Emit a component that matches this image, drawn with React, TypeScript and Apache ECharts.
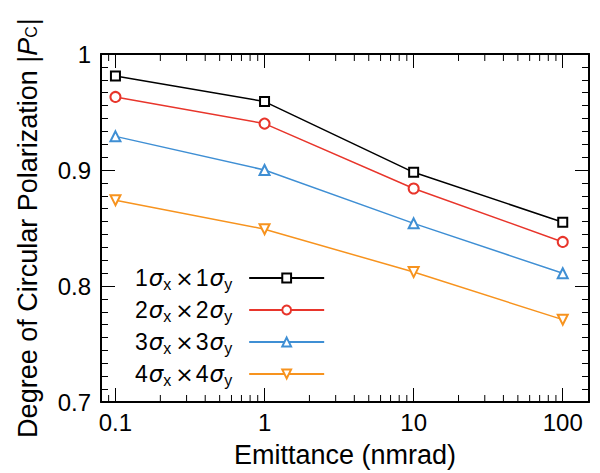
import React, { useEffect, useRef } from 'react';
import * as echarts from 'echarts';

const FONT = '"Liberation Sans", Arial, Helvetica, sans-serif';
const SYM_FONT = '"DejaVu Sans", "Liberation Sans", sans-serif';

const emittance = [0.1, 1, 10, 100];
const beamSizes = [1, 2, 3, 4];
const pol1 = [0.981, 0.959, 0.898, 0.855];
const pol2 = [0.963, 0.94, 0.884, 0.838];
const pol3 = [0.929, 0.9, 0.854, 0.811];
const pol4 = [0.874, 0.849, 0.812, 0.771];
const polarization = [pol1, pol2, pol3, pol4];
const colors = ['#000000', '#e8352b', '#3f8fd4', '#f7931e'];
const symbols = ['emptyRect', 'emptyCircle', 'emptyTriangle', 'emptyTriangle'];
const symbolRotates = [0, 0, 0, 180];
const symbolSizes = [9, 10, 10, 10];
const xLabelTicks = [0.1, 1, 10, 100];
const xMinorTicks = [0.09, 0.2, 0.3, 0.4, 0.5, 0.6, 0.7, 0.8, 0.9, 2, 3, 4, 5, 6, 7, 8, 9, 20, 30, 40, 50, 60, 70, 80, 90];
const xMin = 0.08;
const xMax = 150;
const yMin = 0.7;
const yMax = 1.0;
const yStep = 0.1;

const seriesName = (n: number) => `${n}σx×${n}σy`;
const legendRich = (n: number) => `{n|${n}}{s|σ}{b|x}{m|×}{n|${n}}{s|σ}{e|y}`;

export default function App() {
  const ref = useRef<HTMLDivElement>(null);
  useEffect(() => {
    if (!ref.current) return;
    const chart = echarts.init(ref.current, null, { renderer: 'svg' });
    const tickLine = { color: '#000', width: 1 };
    const xBase = (pos: 'bottom' | 'top', labels: boolean, name?: string) => ({
      type: 'log',
      gridIndex: 0,
      position: pos,
      min: xMin,
      max: xMax,
      name: name,
      nameLocation: 'middle',
      nameGap: 39,
      nameMoveOverlap: false,
      nameTextStyle: { fontFamily: FONT, fontSize: 27, color: '#000' },
      axisLine: { show: true, onZero: false, lineStyle: { color: '#000', width: 2 } },
      axisTick: { show: true, inside: true, length: 14, lineStyle: tickLine },
      axisLabel: labels
        ? { show: true, customValues: xLabelTicks, margin: 8, fontFamily: FONT, fontSize: 24, color: '#000', formatter: (v: number) => String(v) }
        : { show: false },
      splitLine: { show: false },
      minorTick: { show: false },
    });
    const yBase = (pos: 'left' | 'right', labels: boolean, name?: string) => ({
      type: 'value',
      gridIndex: 0,
      position: pos,
      min: yMin,
      max: yMax,
      interval: yStep,
      name: name,
      nameLocation: 'middle',
      nameGap: 60,
      nameRotate: 90,
      nameMoveOverlap: false,
      nameTextStyle: {
        fontFamily: FONT,
        fontSize: 27,
        color: '#000',
        rich: {
          i: { fontFamily: FONT, fontSize: 27, fontStyle: 'italic', color: '#000' },
          c: { fontFamily: FONT, fontSize: 16, color: '#000', padding: [7, 1, 0, 0] },
        },
      },
      axisLine: { show: true, onZero: false, lineStyle: { color: '#000', width: 2 } },
      axisTick: { show: true, inside: true, length: 14, lineStyle: tickLine },
      minorTick: { show: true, splitNumber: 9, length: 7, lineStyle: tickLine },
      axisLabel: labels ? { show: true, margin: 10, fontFamily: FONT, fontSize: 24, color: '#000' } : { show: false },
      splitLine: { show: false },
      minorSplitLine: { show: false },
    });

    const legendRichStyles = {
      n: { fontFamily: FONT, fontSize: 23, color: '#000', lineHeight: 26 },
      s: { fontFamily: SYM_FONT, fontSize: 23, fontStyle: 'italic', color: '#000', lineHeight: 26, padding: [0, 0, 0, 1] },
      m: { fontFamily: SYM_FONT, fontSize: 22, color: '#000', lineHeight: 26, padding: [0, 2, 0, 2] },
      b: { fontFamily: FONT, fontSize: 16, color: '#000', lineHeight: 14, padding: [12, 2, 0, 0] },
      e: { fontFamily: FONT, fontSize: 16, color: '#000', lineHeight: 14, padding: [12, 12, 0, 0] },
    };

    const names = beamSizes.map(seriesName);

    chart.setOption({
      animation: false,
      backgroundColor: '#fff',
      textStyle: { fontFamily: FONT },
      grid: { left: 101, top: 54, right: 11, bottom: 71, containLabel: false, outerBoundsMode: 'none' },
      xAxis: [xBase('bottom', true, 'Emittance (nmrad)'), xBase('top', false)],
      yAxis: [yBase('left', true, 'Degree of Circular Polarization |{i|P}{c|C}|'), yBase('right', false)],
      legend: {
        orient: 'vertical',
        left: 135,
        top: 264,
        align: 'right',
        padding: 0,
        itemGap: 4,
        itemWidth: 75,
        itemHeight: 11,
        selectedMode: false,
        data: names,
        formatter: (name: string) => legendRich(beamSizes[names.indexOf(name)]),
        textStyle: { fontFamily: FONT, fontSize: 23, color: '#000', rich: legendRichStyles },
      },
      series: [
        ...beamSizes.map((n, i) => ({
          type: 'line',
          name: seriesName(n),
          xAxisIndex: 0,
          yAxisIndex: 0,
          data: emittance.map((x, j) => [x, polarization[i][j]]),
          symbol: symbols[i],
          symbolSize: symbolSizes[i],
          symbolRotate: symbolRotates[i],
          showAllSymbol: true,
          color: colors[i],
          lineStyle: { color: colors[i], width: 1.5 },
          itemStyle: { color: colors[i], borderWidth: 1.5 },
          emphasis: { disabled: true },
          z: 3,
        })),
        {
          type: 'custom',
          name: 'minorTicks',
          xAxisIndex: 0,
          yAxisIndex: 0,
          silent: true,
          clip: false,
          z: 2,
          data: xMinorTicks.map((v) => [v, yMin]),
          encode: { x: 0, y: 1 },
          renderItem: (_params: any, api: any) => {
            const v = api.value(0);
            const b = api.coord([v, yMin]);
            const t = api.coord([v, yMax]);
            const style = { stroke: '#000', lineWidth: 1 };
            return {
              type: 'group',
              children: [
                { type: 'line', shape: { x1: b[0], y1: b[1], x2: b[0], y2: b[1] - 7 }, style },
                { type: 'line', shape: { x1: t[0], y1: t[1], x2: t[0], y2: t[1] + 7 }, style },
              ],
            };
          },
        },
      ],
    });
    return () => chart.dispose();
  }, []);
  return <div ref={ref} style={{ width: 600, height: 473, position: 'absolute', left: 0, top: 0 }} />;
}
